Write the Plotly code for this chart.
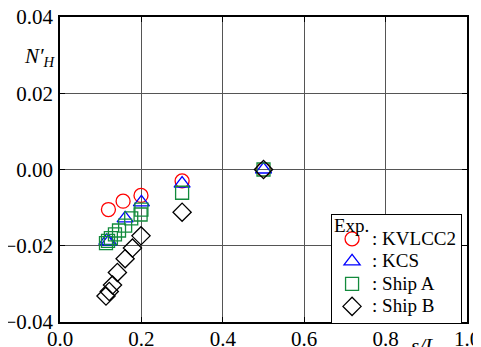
import plotly.graph_objects as go

# KVLCC2
kv_x = [0.119, 0.155, 0.199, 0.300, 0.500]
kv_y = [-0.0105, -0.0083, -0.0068, -0.0030, 0.0]
# KCS
kcs_x = [0.115, 0.120, 0.160, 0.200, 0.300, 0.500]
kcs_y = [-0.0187, -0.0189, -0.0128, -0.0086, -0.0037, 0.0]
# Ship A
a_x = [0.113, 0.118, 0.125, 0.135, 0.145, 0.160, 0.175, 0.198, 0.200, 0.300, 0.500]
a_y = [-0.0193, -0.0187, -0.0180, -0.0170, -0.0160, -0.0147, -0.0128, -0.0118, -0.0105, -0.0061, 0.0]
# Ship B
b_x = [0.113, 0.121, 0.129, 0.141, 0.160, 0.178, 0.199, 0.300, 0.500]
b_y = [-0.0332, -0.0320, -0.0303, -0.0270, -0.0234, -0.0206, -0.0174, -0.0112, 0.0]

x_ticks = [0.0, 0.2, 0.4, 0.6, 0.8, 1.0]
x_ticklabels = ["0.0", "0.2", "0.4", "0.6", "0.8", "1.0"]
y_ticks = [-0.04, -0.02, 0.0, 0.02, 0.04]
y_ticklabels = ["\u22120.04", "\u22120.02", "0.00", "0.02", "0.04"]

FONT = "serif"
LEG_TXT = "<span style='font-size:19px'>{}</span>"

fig = go.Figure()
series = [
    (kv_x, kv_y, ": KVLCC2", "circle-open", "#ff0000", 14),
    (kcs_x, kcs_y, ": KCS", "triangle-up-open", "#0000ff", 14),
    (a_x, a_y, ": Ship A", "square-open", "#138a3c", 13),
    (b_x, b_y, ": Ship B", "diamond-open", "#000000", 14),
]
for xs, ys, name, sym, col, sz in series:
    fig.add_trace(go.Scatter(
        x=xs, y=ys, mode="markers", name=LEG_TXT.format(name),
        marker=dict(symbol=sym, size=sz, color=col, line=dict(color=col, width=1.3)),
    ))

# page body has an 8px margin, so the figure is sized to fill the rest of the window
fig.update_layout(
    width=473, height=339,
    margin=dict(l=52, r=14, t=9, b=25),
    paper_bgcolor="white", plot_bgcolor="white",
    font=dict(family=FONT, size=21, color="black"),
    showlegend=True,
    legend=dict(
        x=0.666, y=-0.006, xanchor="left", yanchor="bottom",
        bgcolor="white", bordercolor="black", borderwidth=1,
        # small spacer title: leaves room for the "Exp." heading above the entries
        title=dict(text="<span style='font-size:1px;color:white'>.</span>",
                   font=dict(family=FONT, size=6), side="top"),
        font=dict(family=FONT, size=15),
        tracegroupgap=0, itemwidth=30,
    ),
    xaxis=dict(
        range=[0, 1], tickvals=x_ticks, ticktext=x_ticklabels,
        showgrid=True, gridcolor="#555555", gridwidth=1.3,
        showline=True, linecolor="black", linewidth=1.5, mirror="ticks",
        ticks="inside", ticklen=5, tickcolor="black",
        zeroline=False, ticklabelstandoff=-3, automargin=False,
        ticklabeloverflow="allow",
    ),
    yaxis=dict(
        range=[-0.04, 0.04], tickvals=y_ticks, ticktext=y_ticklabels,
        showgrid=True, gridcolor="#555555", gridwidth=1.3,
        showline=True, linecolor="black", linewidth=1.5, mirror="ticks",
        ticks="inside", ticklen=5, tickcolor="black",
        zeroline=False, ticklabelstandoff=1, automargin=False,
        ticklabeloverflow="allow",
    ),
    annotations=[
        dict(text="Exp.", xref="paper", yref="paper", x=0.669, y=0.318,
             xanchor="left", yanchor="middle", showarrow=False,
             font=dict(family=FONT, size=19)),
        dict(text="<i>s/L</i>", xref="paper", yref="paper", x=0.895, y=0,
             xanchor="center", yanchor="top", yshift=-10, showarrow=False,
             font=dict(family=FONT, size=21)),
        dict(text="<i>N\u2032<sub>H</sub></i>", xref="paper", yref="paper", x=0, y=0.87,
             xanchor="right", yanchor="middle", xshift=-2, showarrow=False,
             font=dict(family=FONT, size=21)),
    ],
)

fig.write_html("out.html")
